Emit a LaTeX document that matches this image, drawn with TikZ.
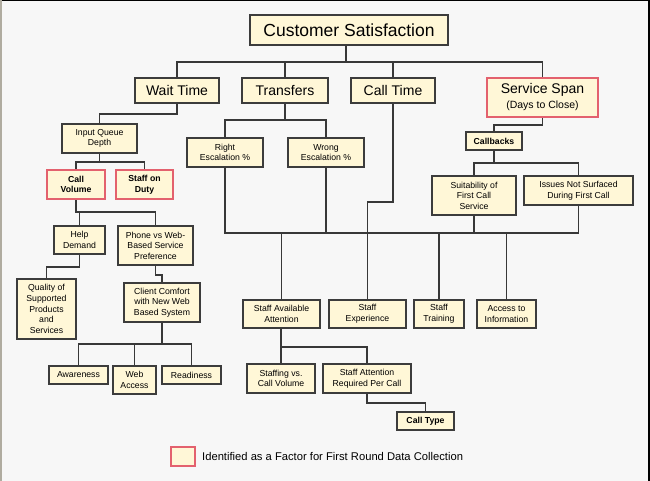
\documentclass[tikz,border=0pt]{standalone}
\usepackage{fontspec}
\setmainfont{Liberation Sans}
\definecolor{bg}{HTML}{F7F7F7}
\definecolor{boxfill}{HTML}{FFF7D7}
\definecolor{boxline}{HTML}{3C3C3C}
\definecolor{redline}{HTML}{E3616E}
\definecolor{conn}{HTML}{383838}
\definecolor{leftedge}{HTML}{B0ACA0}
\newcommand\bx[6]{\node[#1,minimum width=#4pt,minimum height=#5pt] (#2) at (#3) {#6};}
\begin{document}
\begin{tikzpicture}[x=1pt,y=-1pt,
  box/.style={draw=boxline, line width=1.4pt, fill=boxfill, inner sep=0pt, align=center,
    font=\fontsize{8.7}{10.6}\selectfont},
  bigbox/.style={box, font=\fontsize{14}{16}\selectfont},
  redbox/.style={draw=redline, line width=2pt},
  boldbox/.style={box, font=\fontsize{8.7}{10.6}\selectfont\bfseries},
  link/.style={draw=conn, line width=1.7pt}]
\fill[bg] (0,0) rectangle (650,481);
\useasboundingbox (0,0) rectangle (650,481);
\draw[black, line width=1.5pt] (0,0.75) -- (650,0.75);
\draw[black, line width=2pt] (649,0) -- (649,481);
\draw[leftedge, line width=1.5pt] (0.75,0) -- (0.75,481);

% top levels
\bx{box,font=\fontsize{17.5}{20}\selectfont}{cs}{349,30}{198}{30}{Customer Satisfaction}
\bx{bigbox}{wt}{177,90.5}{84}{25}{Wait Time}
\bx{bigbox}{tr}{285,90.5}{86}{25}{Transfers}
\bx{bigbox}{ct}{393,90.5}{84}{25}{Call Time}
\bx{bigbox,redbox}{ss}{542.5,97.5}{111}{39}{{\fontsize{14}{16}\selectfont Service Span}\\[-1pt]{\fontsize{10.5}{12}\selectfont (Days to Close)}}

% wait time subtree
\bx{box}{iqd}{99.5,138.5}{75}{29}{Input Queue\\Depth}
\bx{boldbox,redbox}{cv}{76,184.5}{58}{29}{Call\\Volume}
\bx{boldbox,redbox}{sod}{144.5,184.5}{57}{29}{Staff on\\Duty}
\bx{box}{hd}{79.5,240}{51}{28}{Help\\Demand}
\bx{box}{pw}{155.5,245.5}{75}{39}{Phone vs Web-\\Based Service\\Preference}
\bx{box}{q}{46.5,309}{59}{60}{Quality of\\Supported\\Products\\and\\Services}
\bx{box}{cc}{162,302.5}{76}{39}{Client Comfort\\with New Web\\Based System}
\bx{box}{aw}{78.5,375}{59}{18}{Awareness}
\bx{box}{wa}{134.5,380}{43}{28}{Web\\Access}
\bx{box}{rd}{191.5,375}{59}{18}{Readiness}

% transfers / service span subtree
\bx{box}{re}{225,152.5}{76}{29}{Right\\Escalation \%}
\bx{box}{we}{326,152.5}{76}{29}{Wrong\\Escalation \%}
\bx{boldbox}{cb}{494,141}{56}{18}{Callbacks}
\bx{box}{su}{474,195.5}{84}{39}{Suitability of\\First Call\\Service}
\bx{box}{is}{578.5,190.5}{109}{29}{Issues Not Surfaced\\During First Call}

% lower row
\bx{box}{saa}{281.5,314}{77}{28}{Staff Available\\Attention}
\bx{box}{se}{367.5,314}{77}{28}{Staff\\Experience}
\bx{box}{st}{439,314}{50}{28}{Staff\\Training}
\bx{box}{ai}{506.5,314}{59}{28}{Access to\\Information}
\bx{box}{svc}{281,378.5}{68}{29}{Staffing vs.\\Call Volume}
\bx{box}{sar}{367,378.5}{88}{29}{Staff Attention\\Required Per Call}
\bx{boldbox}{cty}{425.5,421}{57}{18}{Call Type}

% legend
\bx{box,redbox}{lg}{183,456.5}{24}{19}{}
\node[anchor=west, inner sep=0pt, font=\fontsize{11.2}{13}\selectfont] (lgt) at (202,456.5)
  {Identified as a Factor for First Round Data Collection};

% connectors
\coordinate (j0) at (346,62);
\draw[link] (cs.south -| j0) -- (j0);
\draw[link] (wt.north) -- (wt.north |- j0) -- (ss.north |- j0) -- (ss.north);
\draw[link] (tr.north) -- (tr.north |- j0);
\draw[link] (ct.north) -- (ct.north |- j0);

\draw[link] (wt.south) -- ++(0,10) -| (iqd.north);
\coordinate (j1) at (0,162);
\draw[link] (iqd.south) -- (iqd.south |- j1);
\draw[link] (cv.north) -- (cv.north |- j1) -- (sod.north |- j1) -- (sod.north);
\coordinate (j2) at (0,212);
\draw[link] (cv.south) -- (cv.south |- j2) -- (pw.north |- j2) -- (pw.north);
\draw[link] (hd.north) -- (hd.north |- j2);
\draw[link] (hd.south) -- ++(0,12) -| (q.north);
\draw[link] (pw.south) -- ++(0,9) -| (cc.north);
\coordinate (j3) at (0,344);
\draw[link] (cc.south) -- (cc.south |- j3);
\draw[link] (aw.north) -- (aw.north |- j3) -- (rd.north |- j3) -- (rd.north);
\draw[link] (wa.north) -- (wa.north |- j3);

\coordinate (j4) at (0,120);
\draw[link] (tr.south) -- (tr.south |- j4);
\draw[link] (re.north) -- (re.north |- j4) -- (we.north |- j4) -- (we.north);
\draw[link] (ss.south) -- ++(0,7) -| (cb.north);
\coordinate (j5) at (0,163);
\draw[link] (cb.south) -- (cb.south |- j5);
\draw[link] (su.north) -- (su.north |- j5) -- (is.north |- j5) -- (is.north);
\coordinate (j6) at (0,233);
\draw[link] (re.south) -- (re.south |- j6) -- (is.south |- j6) -- (is.south);
\draw[link] (we.south) -- (we.south |- j6);
\draw[link] (su.south) -- (su.south |- j6);
\draw[link] (saa.north) -- (saa.north |- j6);
\draw[link] (st.north) -- (st.north |- j6);
\draw[link] (ai.north) -- (ai.north |- j6);
\draw[link] (ct.south) -- ++(0,98) -| (se.north);
\draw[link] (svc.north |- saa.south) -- (svc.north);
\coordinate (j7) at (0,347);
\draw[link] (saa.south |- j7) -| (sar.north);
\draw[link] (sar.south) -- ++(0,9) -| (cty.north);
\end{tikzpicture}
\end{document}
